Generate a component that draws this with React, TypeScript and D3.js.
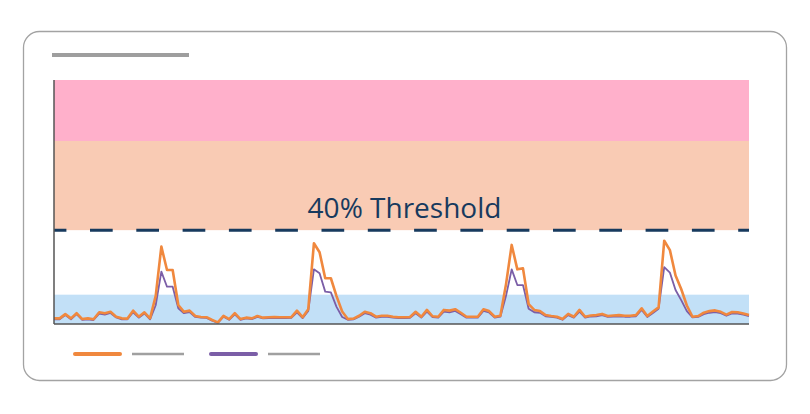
import { useMemo } from "react";
import * as d3 from "d3";

// two load series, one reading per step, values in %
const SERIES_A = [
  2.4, 2.4, 4.2, 2.4, 4.6, 2.1, 2.4, 2.0, 5.0, 4.6, 5.2, 3.1, 2.4, 2.3, 5.7, 3.1,
  5.0, 2.4, 12.0, 33.0, 23.0, 23.0, 8.1, 5.2, 5.7, 3.4, 3.0, 2.9, 1.7, 0.7, 3.5, 2.1,
  4.6, 2.1, 2.7, 2.4, 3.4, 2.7, 2.9, 3.0, 2.9, 2.9, 2.9, 5.7, 2.9, 6.3, 34.4, 30.6,
  19.5, 19.5, 11.9, 5.3, 2.1, 2.3, 3.5, 5.2, 4.6, 3.1, 3.5, 3.5, 3.1, 2.9, 2.9, 3.0,
  5.2, 3.1, 6.0, 3.3, 3.1, 6.0, 5.7, 6.3, 4.8, 3.1, 3.1, 3.1, 6.3, 5.5, 3.1, 3.5,
  17.0, 33.7, 23.3, 23.7, 8.5, 6.0, 5.5, 3.8, 3.4, 3.1, 2.1, 4.3, 3.1, 6.0, 3.1, 3.6,
  3.8, 4.3, 3.4, 3.6, 3.8, 3.5, 3.5, 3.8, 6.7, 3.4, 5.3, 7.1, 35.5, 31.5, 20.7, 14.9,
  7.9, 3.1, 3.4, 4.8, 5.5, 5.8, 5.2, 4.0, 5.1, 5.0, 4.5, 3.8,
];

const SERIES_B = [
  2.0, 2.0, 3.8, 2.0, 4.2, 1.8, 2.0, 1.7, 4.4, 4.0, 4.7, 2.8, 2.0, 2.0, 5.0, 2.7,
  4.5, 2.0, 8.0, 22.3, 15.9, 15.9, 6.7, 4.6, 5.1, 3.0, 2.7, 2.6, 1.4, 0.5, 3.1, 1.8,
  4.1, 1.8, 2.4, 2.1, 3.0, 2.4, 2.5, 2.6, 2.5, 2.5, 2.6, 5.0, 2.5, 5.6, 23.3, 21.6,
  13.8, 13.5, 7.3, 3.0, 1.8, 2.0, 3.1, 4.6, 4.0, 2.7, 3.0, 3.0, 2.7, 2.5, 2.5, 2.6,
  4.6, 2.7, 5.3, 2.9, 2.7, 5.3, 5.0, 5.6, 4.2, 2.7, 2.7, 2.7, 5.6, 4.9, 2.7, 3.1,
  12.0, 23.3, 16.6, 16.6, 6.5, 5.0, 4.8, 3.3, 3.0, 2.7, 1.8, 3.8, 2.7, 5.3, 2.7, 3.2,
  3.3, 3.8, 3.0, 3.2, 3.3, 3.1, 3.1, 3.3, 6.0, 3.0, 4.7, 6.5, 24.2, 21.9, 14.5, 10.2,
  5.5, 2.8, 3.0, 4.2, 4.8, 5.1, 4.6, 3.5, 4.5, 4.4, 4.0, 3.3,
];

// background zones [from, to] in %
const ZONES = [
  { from: 0, to: 12.5, color: "#c2e0f7" },
  { from: 40, to: 78, color: "#f9cbb4" },
  { from: 78, to: 104, color: "#ffb0cb" },
];
const THRESHOLD = 40;
const THRESHOLD_LABEL = "40% Threshold";
const Y_MAX = 104;

const W = 810;
const H = 414;
const M = { left: 54, right: 61, top: 80, bottom: 90 };

export default function App() {
  const x = useMemo(
    () => d3.scaleLinear().domain([0, SERIES_A.length - 1]).range([M.left, W - M.right]),
    []
  );
  const y = useMemo(
    () => d3.scaleLinear().domain([0, Y_MAX]).range([H - M.bottom, M.top]),
    []
  );

  const line = d3.line<number>()
    .x((_d, i) => x(i))
    .y((d) => y(d));

  const x0 = M.left;
  const x1 = W - M.right;
  const cx = (x0 + x1) / 2;

  return (
    <div style={{ position: "absolute", left: 0, top: 0 }}>
      <svg width={W} height={H} style={{ display: "block" }}>
        {/* card */}
        <rect x={23.5} y={31.5} width={763} height={349} rx={16} fill="#fff" stroke="#a3a3a3" strokeWidth={1.3} />
        {/* title placeholder */}
        <rect x={52} y={53} width={137} height={4} fill="#9e9e9e" />

        {ZONES.map((z, i) => (
          <rect
            key={i}
            x={x0}
            y={y(z.to)}
            width={x1 - x0}
            height={y(z.from) - y(z.to)}
            fill={z.color}
          />
        ))}

        <line
          x1={x0} x2={x1} y1={y(THRESHOLD)} y2={y(THRESHOLD)}
          stroke="#173a5e" strokeWidth={3}
          strokeDasharray="22.7 23.6" strokeDashoffset={10.3}
        />
        <text
          x={cx + 3} y={y(THRESHOLD) - 12.5}
          textAnchor="middle" fill="#173a5e"
          fontFamily="'Open Sans', Lato, sans-serif" fontSize={28}
        >
          {THRESHOLD_LABEL}
        </text>

        <path d={line(SERIES_B) ?? ""} fill="none" stroke="#7b5ea7" strokeWidth={1.8} strokeLinejoin="round" />
        <path d={line(SERIES_A) ?? ""} fill="none" stroke="#f0883e" strokeWidth={2.6} strokeLinejoin="round" />

        {/* axes */}
        <line x1={x0} x2={x0} y1={M.top} y2={y(0)} stroke="#555" strokeWidth={1.5} />
        <line x1={x0} x2={x1} y1={y(0)} y2={y(0)} stroke="#555" strokeWidth={1.5} />

        {/* legend */}
        <line x1={75} x2={120} y1={354} y2={354} stroke="#f0883e" strokeWidth={4} strokeLinecap="round" />
        <line x1={132} x2={184} y1={354} y2={354} stroke="#a0a0a0" strokeWidth={2.5} />
        <line x1={211} x2={256} y1={354} y2={354} stroke="#7b5ea7" strokeWidth={4} strokeLinecap="round" />
        <line x1={268} x2={320} y1={354} y2={354} stroke="#a0a0a0" strokeWidth={2.5} />
      </svg>
    </div>
  );
}
